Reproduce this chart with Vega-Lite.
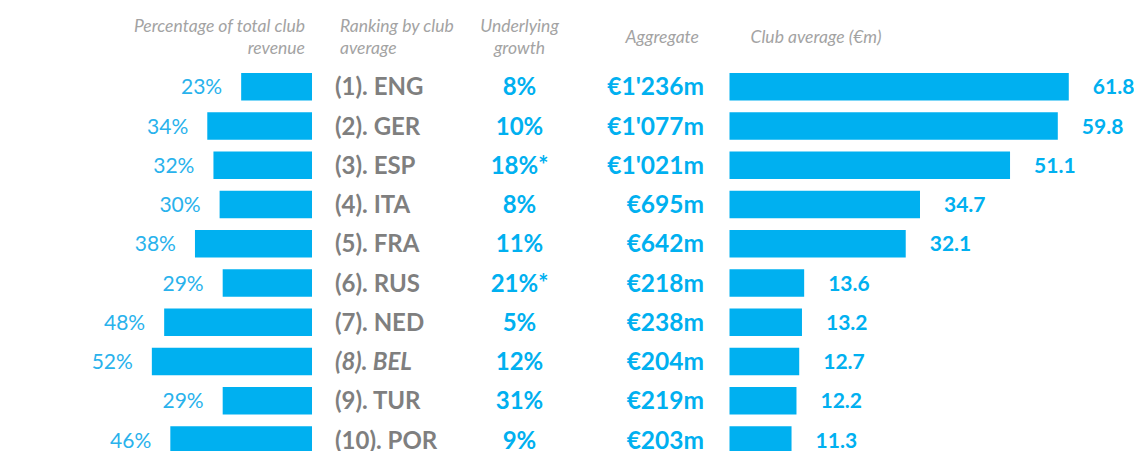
{
  "$schema": "https://vega.github.io/schema/vega-lite/v6.json",
  "width": 1134,
  "height": 451,
  "autosize": {"type": "none"},
  "padding": 0,
  "background": "white",
  "config": {"view": {"stroke": null}, "font": "Lato", "scale": {"continuousPadding": 0}},
  "data": {
    "values": [
      {"rank": 1, "label": "(1). ENG", "pct": 0.23, "growth": "8%", "aggregate": "€1'236m", "avg": 61.8},
      {"rank": 2, "label": "(2). GER", "pct": 0.34, "growth": "10%", "aggregate": "€1'077m", "avg": 59.8},
      {"rank": 3, "label": "(3). ESP", "pct": 0.32, "growth": "18%*", "aggregate": "€1'021m", "avg": 51.1},
      {"rank": 4, "label": "(4). ITA", "pct": 0.30, "growth": "8%", "aggregate": "€695m", "avg": 34.7},
      {"rank": 5, "label": "(5). FRA", "pct": 0.38, "growth": "11%", "aggregate": "€642m", "avg": 32.1},
      {"rank": 6, "label": "(6). RUS", "pct": 0.29, "growth": "21%*", "aggregate": "€218m", "avg": 13.6},
      {"rank": 7, "label": "(7). NED", "pct": 0.48, "growth": "5%", "aggregate": "€238m", "avg": 13.2},
      {"rank": 8, "label": "(8). BEL", "pct": 0.52, "growth": "12%", "aggregate": "€204m", "avg": 12.7},
      {"rank": 9, "label": "(9). TUR", "pct": 0.29, "growth": "31%", "aggregate": "€219m", "avg": 12.2},
      {"rank": 10, "label": "(10). POR", "pct": 0.46, "growth": "9%", "aggregate": "€203m", "avg": 11.3}
    ]
  },
  "resolve": {"scale": {"x": "independent"}},
  "layer": [
    {
      "mark": {"type": "bar", "orient": "horizontal", "size": 27.5, "color": "#00b0f0"},
      "encoding": {
        "y": {"field": "rank", "type": "quantitative", "scale": {"domain": [-1.2115, 10.279], "reverse": true, "nice": false, "zero": false, "padding": 0}, "axis": null},
        "x": {"field": "pct", "type": "quantitative", "scale": {"domain": [-2.6688, 1.013], "reverse": true, "nice": false, "zero": false}, "axis": null},
        "x2": {"datum": 0}
      }
    },
    {
      "mark": {"type": "text", "align": "right", "baseline": "middle", "dx": -19, "dy": 1.5, "fontSize": 21, "color": "#29b2ec"},
      "encoding": {
        "y": {"field": "rank", "type": "quantitative", "scale": {"domain": [-1.2115, 10.279], "reverse": true, "nice": false, "zero": false, "padding": 0}, "axis": null},
        "x": {"field": "pct", "type": "quantitative", "scale": {"domain": [-2.6688, 1.013], "reverse": true, "nice": false, "zero": false}, "axis": null},
        "text": {"field": "pct", "type": "quantitative", "format": ".0%"}
      }
    },
    {
      "transform": [{"filter": "datum.rank != 8"}],
      "mark": {"type": "text", "align": "left", "baseline": "middle", "dy": 1.5, "fontSize": 24, "fontWeight": "bold", "color": "#7f7f7f"},
      "encoding": {
        "y": {"field": "rank", "type": "quantitative", "scale": {"domain": [-1.2115, 10.279], "reverse": true, "nice": false, "zero": false, "padding": 0}, "axis": null},
        "x": {"datum": "Ranking", "type": "nominal", "scale": {"type": "point", "domain": ["Ranking", "Growth", "Aggregate"], "range": [335, 704], "padding": 0}, "axis": null},
        "text": {"field": "label", "type": "nominal"}
      }
    },
    {
      "transform": [{"filter": "datum.rank == 8"}],
      "mark": {"type": "text", "align": "left", "baseline": "middle", "dy": 1.5, "fontSize": 24, "fontWeight": "bold", "fontStyle": "italic", "color": "#7f7f7f"},
      "encoding": {
        "y": {"field": "rank", "type": "quantitative", "scale": {"domain": [-1.2115, 10.279], "reverse": true, "nice": false, "zero": false, "padding": 0}, "axis": null},
        "x": {"datum": "Ranking", "type": "nominal", "scale": {"type": "point", "domain": ["Ranking", "Growth", "Aggregate"], "range": [335, 704], "padding": 0}, "axis": null},
        "text": {"field": "label", "type": "nominal"}
      }
    },
    {
      "mark": {"type": "text", "align": "center", "baseline": "middle", "dy": 1.5, "fontSize": 24, "fontWeight": "bold", "color": "#00b0f0"},
      "encoding": {
        "y": {"field": "rank", "type": "quantitative", "scale": {"domain": [-1.2115, 10.279], "reverse": true, "nice": false, "zero": false, "padding": 0}, "axis": null},
        "x": {"datum": "Growth", "type": "nominal", "scale": {"type": "point", "domain": ["Ranking", "Growth", "Aggregate"], "range": [335, 704], "padding": 0}, "axis": null},
        "text": {"field": "growth", "type": "nominal"}
      }
    },
    {
      "mark": {"type": "text", "align": "right", "baseline": "middle", "dy": 1.5, "fontSize": 24.5, "fontWeight": "bold", "color": "#00b0f0"},
      "encoding": {
        "y": {"field": "rank", "type": "quantitative", "scale": {"domain": [-1.2115, 10.279], "reverse": true, "nice": false, "zero": false, "padding": 0}, "axis": null},
        "x": {"datum": "Aggregate", "type": "nominal", "scale": {"type": "point", "domain": ["Ranking", "Growth", "Aggregate"], "range": [335, 704], "padding": 0}, "axis": null},
        "text": {"field": "aggregate", "type": "nominal"}
      }
    },
    {
      "mark": {"type": "bar", "orient": "horizontal", "size": 27.5, "color": "#00b0f0"},
      "encoding": {
        "y": {"field": "rank", "type": "quantitative", "scale": {"domain": [-1.2115, 10.279], "reverse": true, "nice": false, "zero": false, "padding": 0}, "axis": null},
        "x": {"field": "avg", "type": "quantitative", "scale": {"domain": [-132.88, 73.68], "nice": false, "zero": false}, "axis": null},
        "x2": {"datum": 0}
      }
    },
    {
      "mark": {"type": "text", "align": "left", "baseline": "middle", "dx": 24, "dy": 1.5, "fontSize": 21, "fontWeight": "bold", "color": "#00b0f0"},
      "encoding": {
        "y": {"field": "rank", "type": "quantitative", "scale": {"domain": [-1.2115, 10.279], "reverse": true, "nice": false, "zero": false, "padding": 0}, "axis": null},
        "x": {"field": "avg", "type": "quantitative", "scale": {"domain": [-132.88, 73.68], "nice": false, "zero": false}, "axis": null},
        "text": {"field": "avg", "type": "quantitative", "format": ".1f"}
      }
    },
    {
      "data": {"values": [{"header": "Percentage of total club\nrevenue"}]},
      "mark": {"type": "text", "align": "right", "baseline": "alphabetic", "lineBreak": "\n", "lineHeight": 22, "dx": -7, "fontSize": 17.5, "fontStyle": "italic", "color": "#a3a3a3"},
      "encoding": {
        "y": {"datum": -0.396, "type": "quantitative", "scale": {"domain": [-1.2115, 10.279], "reverse": true, "nice": false, "zero": false, "padding": 0}, "axis": null},
        "x": {"datum": 0, "type": "quantitative", "scale": {"domain": [-2.6688, 1.013], "reverse": true, "nice": false, "zero": false}, "axis": null},
        "text": {"field": "header", "type": "nominal"}
      }
    },
    {
      "data": {"values": [{"header": "Ranking by club\naverage"}]},
      "mark": {"type": "text", "align": "left", "baseline": "alphabetic", "lineBreak": "\n", "lineHeight": 22, "dx": 5, "fontSize": 17.5, "fontStyle": "italic", "color": "#a3a3a3"},
      "encoding": {
        "y": {"datum": -0.396, "type": "quantitative", "scale": {"domain": [-1.2115, 10.279], "reverse": true, "nice": false, "zero": false, "padding": 0}, "axis": null},
        "x": {"datum": "Ranking", "type": "nominal", "scale": {"type": "point", "domain": ["Ranking", "Growth", "Aggregate"], "range": [335, 704], "padding": 0}, "axis": null},
        "text": {"field": "header", "type": "nominal"}
      }
    },
    {
      "data": {"values": [{"header": "Underlying\ngrowth"}]},
      "mark": {"type": "text", "align": "center", "baseline": "alphabetic", "lineBreak": "\n", "lineHeight": 22, "fontSize": 17.5, "fontStyle": "italic", "color": "#a3a3a3"},
      "encoding": {
        "y": {"datum": -0.396, "type": "quantitative", "scale": {"domain": [-1.2115, 10.279], "reverse": true, "nice": false, "zero": false, "padding": 0}, "axis": null},
        "x": {"datum": "Growth", "type": "nominal", "scale": {"type": "point", "domain": ["Ranking", "Growth", "Aggregate"], "range": [335, 704], "padding": 0}, "axis": null},
        "text": {"field": "header", "type": "nominal"}
      }
    },
    {
      "data": {"values": [{"header": "Aggregate"}]},
      "mark": {"type": "text", "align": "right", "baseline": "alphabetic", "dx": -5, "fontSize": 17.5, "fontStyle": "italic", "color": "#a3a3a3"},
      "encoding": {
        "y": {"datum": -0.125, "type": "quantitative", "scale": {"domain": [-1.2115, 10.279], "reverse": true, "nice": false, "zero": false, "padding": 0}, "axis": null},
        "x": {"datum": "Aggregate", "type": "nominal", "scale": {"type": "point", "domain": ["Ranking", "Growth", "Aggregate"], "range": [335, 704], "padding": 0}, "axis": null},
        "text": {"field": "header", "type": "nominal"}
      }
    },
    {
      "data": {"values": [{"header": "Club average (€m)"}]},
      "mark": {"type": "text", "align": "left", "baseline": "alphabetic", "dx": 21, "fontSize": 17.5, "fontStyle": "italic", "color": "#a3a3a3"},
      "encoding": {
        "y": {"datum": -0.125, "type": "quantitative", "scale": {"domain": [-1.2115, 10.279], "reverse": true, "nice": false, "zero": false, "padding": 0}, "axis": null},
        "x": {"datum": 0, "type": "quantitative", "scale": {"domain": [-132.88, 73.68], "nice": false, "zero": false}, "axis": null},
        "text": {"field": "header", "type": "nominal"}
      }
    }
  ]
}
